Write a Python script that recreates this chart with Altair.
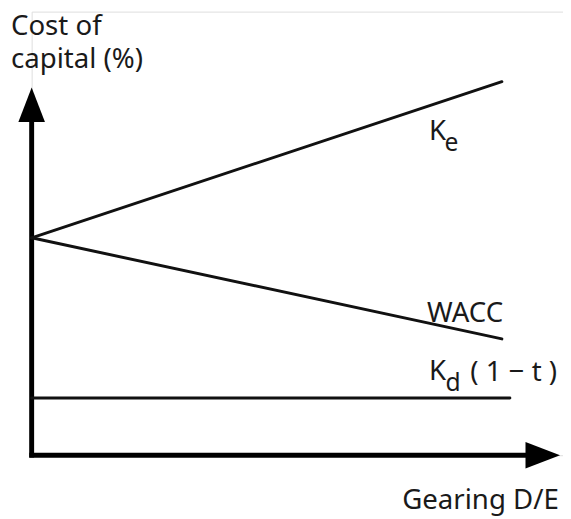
import altair as alt
import pandas as pd

# Line data (gearing D/E vs cost of capital, arbitrary units)
gearing = [0, 10]
ke = [10.0, 17.18]
wacc = [10.0, 5.35]
kd_gearing = [0, 10.17]
kd = [2.63, 2.63]

# Axis (arrow) geometry in data units
axis_v_x = [0, 0]
axis_v_y = [-0.1, 15.8]
axis_h_x = [-0.05, 10.55]
axis_h_y = [0, 0]
arrow_up = (0, 16.12)
arrow_right = (10.87, 0)

# Labels
main_text = ["Cost of", "capital (%)", "Gearing D/E", "WACC", "K", "K", "( 1 − t )"]
main_x = [-0.44, -0.44, 7.88, 8.41, 8.45, 8.45, 9.33]
main_y = [19.31, 17.82, -2.45, 6.12, 14.51, 3.45, 3.40]
sub_text = ["e", "d"]
sub_x = [8.78, 8.80]
sub_y = [14.0, 2.95]

lines = pd.DataFrame(
    [{"series": "Ke", "x": g, "y": v} for g, v in zip(gearing, ke)]
    + [{"series": "WACC", "x": g, "y": v} for g, v in zip(gearing, wacc)]
    + [{"series": "Kd", "x": g, "y": v} for g, v in zip(kd_gearing, kd)]
)
axes = pd.DataFrame(
    [{"axis": "v", "x": a, "y": b} for a, b in zip(axis_v_x, axis_v_y)]
    + [{"axis": "h", "x": a, "y": b} for a, b in zip(axis_h_x, axis_h_y)]
)
arrows = pd.DataFrame([
    {"dir": "up", "x": arrow_up[0], "y": arrow_up[1]},
    {"dir": "right", "x": arrow_right[0], "y": arrow_right[1]},
])
labels = pd.DataFrame({"text": main_text, "x": main_x, "y": main_y})
subs = pd.DataFrame({"text": sub_text, "x": sub_x, "y": sub_y})

xs = alt.Scale(domain=[0, 11.3], nice=False, zero=False)
ys = alt.Scale(domain=[0, 20.4], nice=False, zero=False)
X = alt.X("x:Q", scale=xs, axis=None)
Y = alt.Y("y:Q", scale=ys, axis=None)

line_layer = alt.Chart(lines).mark_line(color="#111111", strokeWidth=3, strokeCap="round").encode(
    x=X, y=Y, detail="series:N"
)
axis_layer = alt.Chart(axes).mark_line(color="#000000", strokeWidth=5, strokeCap="butt").encode(
    x=X, y=Y, detail="axis:N"
)
up_layer = alt.Chart(arrows[arrows["dir"] == "up"]).mark_point(
    shape="M0,-1L0.77,1L-0.77,1Z", filled=True, size=1225, color="#000000", opacity=1
).encode(x=X, y=Y)
right_layer = alt.Chart(arrows[arrows["dir"] == "right"]).mark_point(
    shape="M1,0L-1,-0.77L-1,0.77Z", filled=True, size=1225, color="#000000", opacity=1
).encode(x=X, y=Y)
text_layer = alt.Chart(labels).mark_text(
    font="Noto Sans", fontSize=28, align="left", baseline="alphabetic", color="#1a1a1a"
).encode(x=X, y=Y, text="text:N")
sub_layer = alt.Chart(subs).mark_text(
    font="Noto Sans", fontSize=25, align="left", baseline="alphabetic", color="#1a1a1a"
).encode(x=X, y=Y, text="text:N")

chart = alt.layer(
    axis_layer, line_layer, up_layer, right_layer, text_layer, sub_layer
).properties(
    width=539,
    height=450,
    padding={"left": 24, "top": 0, "right": 0, "bottom": 61},
    autosize=alt.AutoSizeParams(type="none"),
).configure_view(stroke=None).configure(background="white")

chart.save("out.html", embed_options={"renderer": "svg", "actions": False})
